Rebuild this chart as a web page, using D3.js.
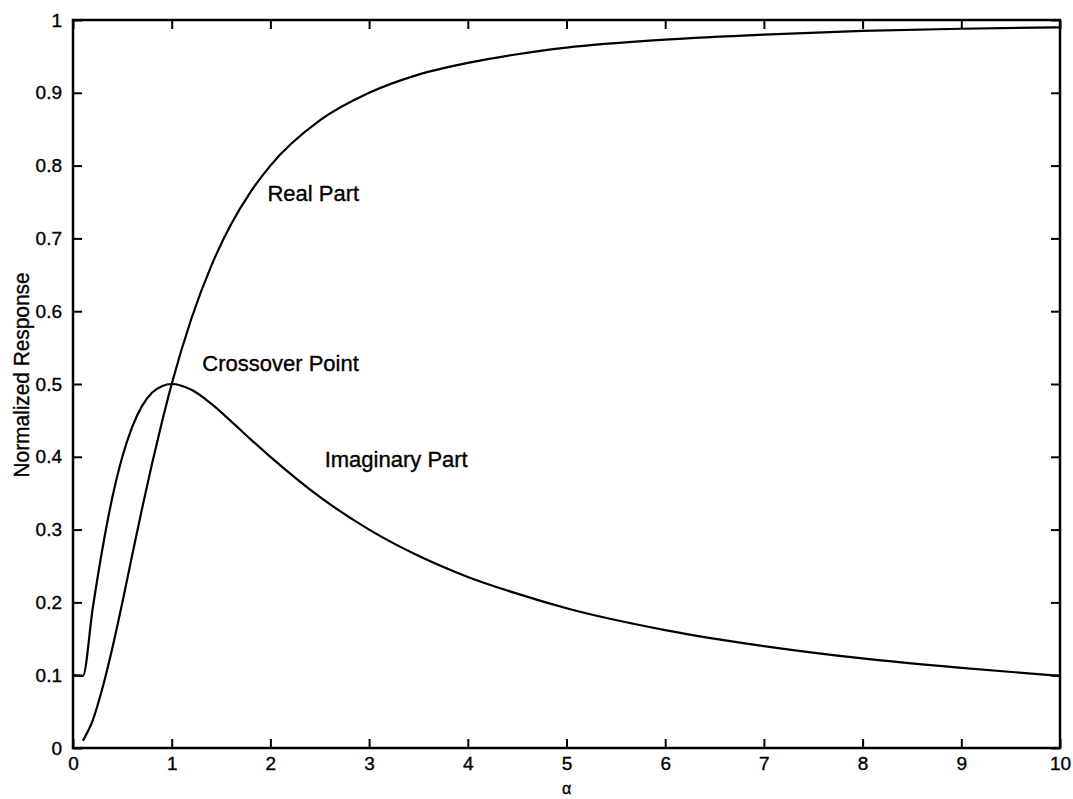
<!DOCTYPE html>
<html>
<head>
<meta charset="utf-8">
<script src="https://cdn.jsdelivr.net/npm/d3@7/dist/d3.min.js"></script>
<style>
  html, body { margin: 0; padding: 0; background: #fff; }
  svg { display: block; }
  text { font-family: "Liberation Sans", Arial, Helvetica, sans-serif; fill: #000; stroke: #000; stroke-width: 0.35px; }
</style>
</head>
<body>
<svg id="chart" width="1073" height="799"></svg>
<script>
// Normalized response versus alpha: real and imaginary parts
const alpha = [0.1, 0.2, 0.3, 0.4, 0.5, 0.6, 0.7, 0.8, 0.9, 1.0,
               1.2, 1.4, 1.6, 1.8, 2.0, 2.5, 3.0, 3.5, 4.0, 4.5,
               5, 6, 7, 8, 9, 10];
const realPart = [0.010, 0.038, 0.083, 0.138, 0.200, 0.265, 0.329, 0.390, 0.447, 0.500,
                  0.590, 0.662, 0.719, 0.764, 0.800, 0.862, 0.900, 0.925, 0.941, 0.953,
                  0.962, 0.973, 0.980, 0.985, 0.988, 0.990];
// the imaginary trace begins with a short flat step from alpha = 0
const imagAlpha = [0].concat(alpha);
const imagPart = [0.100, 0.099, 0.192, 0.275, 0.345, 0.400, 0.441, 0.470, 0.488, 0.497, 0.500,
                  0.492, 0.473, 0.449, 0.424, 0.400, 0.345, 0.300, 0.264, 0.235, 0.212,
                  0.192, 0.162, 0.140, 0.123, 0.110, 0.099];

const xTicks = [0, 1, 2, 3, 4, 5, 6, 7, 8, 9, 10];
const yTicks = [0, 0.1, 0.2, 0.3, 0.4, 0.5, 0.6, 0.7, 0.8, 0.9, 1];
const yTickLabels = ["0", "0.1", "0.2", "0.3", "0.4", "0.5", "0.6", "0.7", "0.8", "0.9", "1"];

const annotations = [
  { text: "Real Part",       a: 1.97, v: 0.762 },
  { text: "Crossover Point", a: 1.31, v: 0.529 },
  { text: "Imaginary Part",  a: 2.55, v: 0.396 }
];

const width = 1073, height = 799;
const margin = { top: 20, right: 13, bottom: 51, left: 73 };
const iw = width - margin.left - margin.right;
const ih = height - margin.top - margin.bottom;

const svg = d3.select("#chart");
const g = svg.append("g").attr("transform", `translate(${margin.left},${margin.top})`);

const x = d3.scaleLinear().domain([0, 10]).range([0, iw]);
const y = d3.scaleLinear().domain([0, 1]).range([ih, 0]);

const tickLen = 9;

// axes: inward ticks on all four sides, labels on bottom and left
const xAxisBottom = d3.axisBottom(x).tickValues(xTicks).tickSizeInner(-tickLen).tickSizeOuter(0)
  .tickPadding(9).tickFormat(d3.format("d"));
const xAxisTop = d3.axisTop(x).tickValues(xTicks).tickSizeInner(-tickLen).tickSizeOuter(0).tickFormat("");
const yAxisLeft = d3.axisLeft(y).tickValues(yTicks).tickSizeInner(-tickLen).tickSizeOuter(0)
  .tickPadding(11).tickFormat((d, i) => yTickLabels[i]);
const yAxisRight = d3.axisRight(y).tickValues(yTicks).tickSizeInner(-tickLen).tickSizeOuter(0).tickFormat("");

function styleAxis(sel) {
  sel.select(".domain").remove();
  sel.selectAll(".tick line").attr("stroke", "#000").attr("stroke-width", 2);
  sel.selectAll(".tick text").style("font-size", "19px").attr("fill", "#000");
}

g.append("g").attr("transform", `translate(0,${ih})`).call(xAxisBottom).call(styleAxis);
g.append("g").call(xAxisTop).call(styleAxis);
g.append("g").call(yAxisLeft).call(styleAxis);
g.append("g").attr("transform", `translate(${iw},0)`).call(yAxisRight).call(styleAxis);

// plot frame
g.append("rect")
  .attr("x", 0).attr("y", 0).attr("width", iw).attr("height", ih)
  .attr("fill", "none").attr("stroke", "#000").attr("stroke-width", 2.5);

const line = d3.line()
  .x(d => x(d[0]))
  .y(d => y(d[1]))
  .curve(d3.curveMonotoneX);

const realData = alpha.map((a, i) => [a, realPart[i]]);
const imagData = imagAlpha.map((a, i) => [a, imagPart[i]]);

g.append("path").datum(realData)
  .attr("d", line).attr("fill", "none").attr("stroke", "#000").attr("stroke-width", 2.2);
g.append("path").datum(imagData)
  .attr("d", line).attr("fill", "none").attr("stroke", "#000").attr("stroke-width", 2.2);

// curve annotations
g.selectAll("text.annot").data(annotations).enter().append("text")
  .attr("class", "annot")
  .attr("x", d => x(d.a))
  .attr("y", d => y(d.v))
  .attr("dy", "0.35em")
  .style("font-size", "22px")
  .text(d => d.text);

// axis titles
svg.append("text")
  .attr("x", margin.left + iw / 2)
  .attr("y", 794)
  .attr("text-anchor", "middle")
  .style("font-size", "16px")
  .text("α");

svg.append("text")
  .attr("transform", "translate(29,375) rotate(-90)")
  .attr("text-anchor", "middle")
  .attr("textLength", 205)
  .attr("lengthAdjust", "spacingAndGlyphs")
  .style("font-size", "22px")
  .text("Normalized Response");
</script>
</body>
</html>
